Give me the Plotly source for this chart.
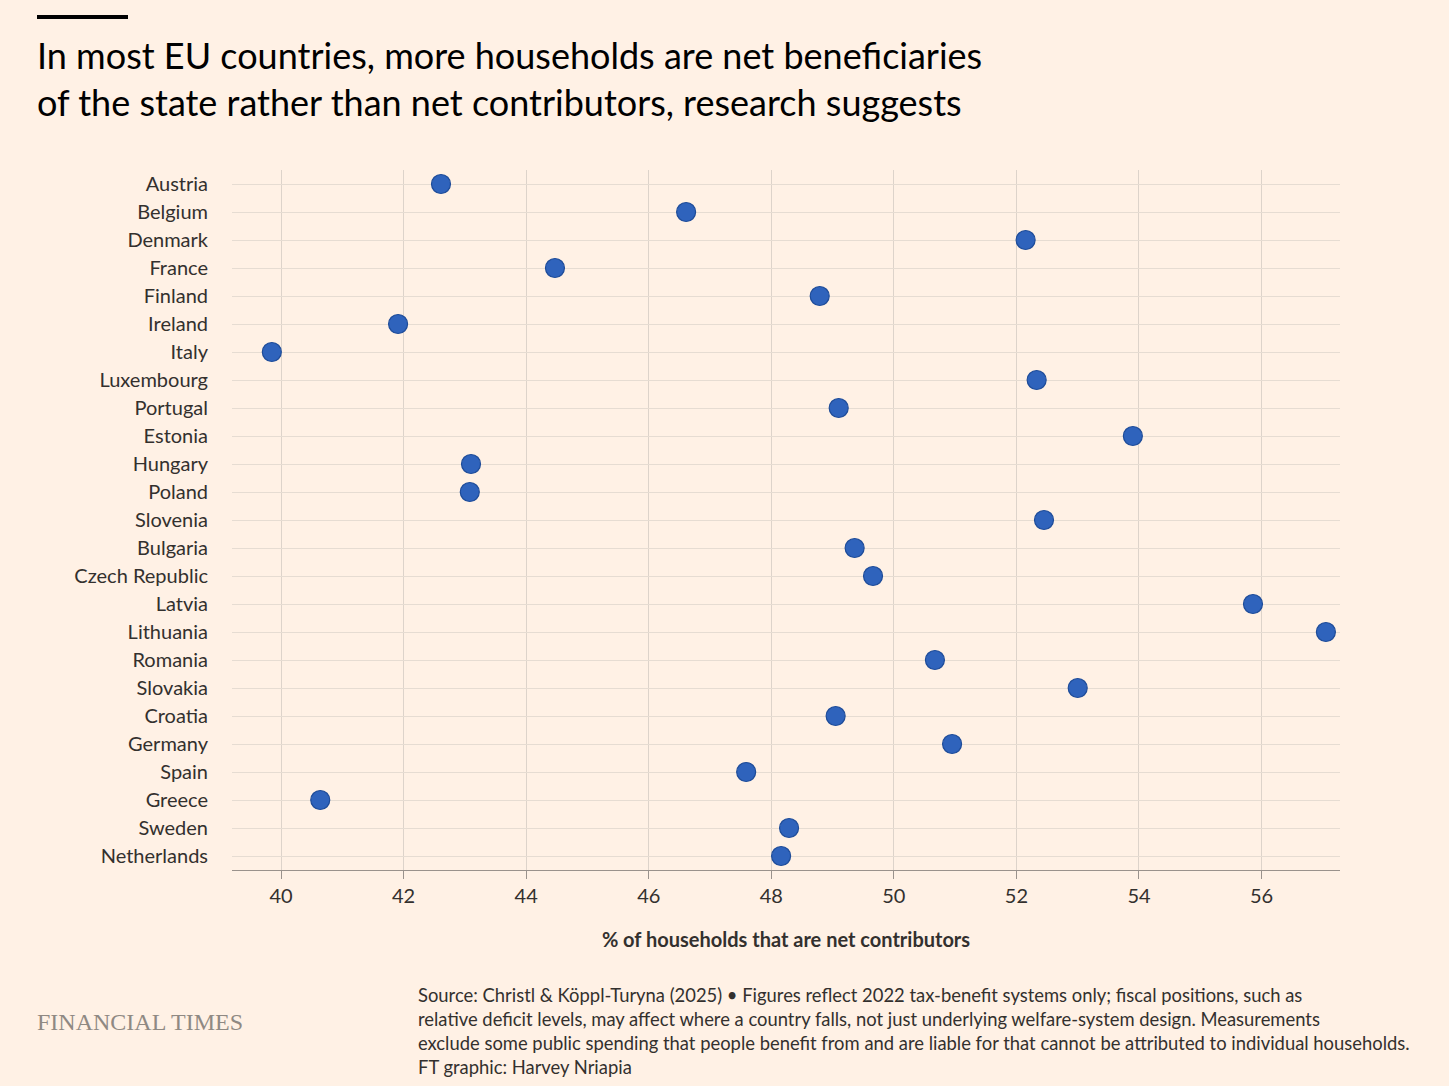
import plotly.graph_objects as go

countries = ["Austria", "Belgium", "Denmark", "France", "Finland", "Ireland", "Italy",
             "Luxembourg", "Portugal", "Estonia", "Hungary", "Poland", "Slovenia",
             "Bulgaria", "Czech Republic", "Latvia", "Lithuania", "Romania", "Slovakia",
             "Croatia", "Germany", "Spain", "Greece", "Sweden", "Netherlands"]
share = [42.61, 46.61, 52.15, 44.47, 48.79, 41.91, 39.85, 52.33, 49.10, 53.90,
         43.10, 43.08, 52.45, 49.36, 49.66, 55.86, 57.05, 50.67, 53.00, 49.05,
         50.95, 47.59, 40.64, 48.29, 48.16]
x_ticks = [40, 42, 44, 46, 48, 50, 52, 54, 56]

bg = "#FFF1E5"
font = "Lato, Noto Sans, sans-serif"

fig = go.Figure(go.Scatter(
    x=share, y=countries, mode="markers",
    marker=dict(size=19, color="#2F63BC", line=dict(color="#1E4C99", width=1.2)),
    showlegend=False, cliponaxis=False))

fig.update_layout(
    width=1449, height=1086, paper_bgcolor=bg, plot_bgcolor=bg,
    margin=dict(l=232, r=109, t=170, b=216),
    font=dict(family=font, size=20, color="#33302E"),
    xaxis=dict(range=[39.2, 57.28], tickvals=x_ticks, showgrid=True,
               gridcolor="#DDD3CA", gridwidth=1.2, zeroline=False,
               showline=True, linecolor="#9A928C", linewidth=1.2,
               ticks="outside", ticklen=8, tickcolor="#9A928C",
               tickfont=dict(size=20, color="#33302E"),
               title=dict(text="<b>% of households that are net contributors</b>",
                          font=dict(size=20, color="#33302E"), standoff=26)),
    yaxis=dict(categoryorder="array", categoryarray=countries,
               range=[24.5, -0.5], showgrid=True, gridcolor="#E6DCD2",
               gridwidth=1.2, zeroline=False, ticks="outside", ticklen=19,
               tickcolor="rgba(0,0,0,0)", tickfont=dict(size=20, color="#33302E")),
)

fig.add_shape(type="rect", xref="paper", yref="paper",
              x0=-195/1108, x1=-104/1108, y0=1 + 151/700, y1=1 + 155/700,
              fillcolor="#000000", line_width=0)

fig.add_annotation(xref="paper", yref="paper", x=-197/1108, y=1 + 139/700,
                   xanchor="left", yanchor="top", align="left", showarrow=False,
                   text="In most EU countries, more households are net beneficiaries<br>"
                        "of the state rather than net contributors, research suggests",
                   font=dict(size=36, color="#000000", family=font))

fig.add_annotation(xref="paper", yref="paper", x=-197/1108, y=-152/700,
                   xanchor="left", yanchor="middle", showarrow=False,
                   text="FINANCIAL TIMES",
                   font=dict(size=24, color="#8F8983", family="Liberation Serif, serif"))

fig.add_annotation(xref="paper", yref="paper", x=184/1108, y=-112/700,
                   xanchor="left", yanchor="top", align="left", showarrow=False,
                   text="Source: Christl &amp; Köppl-Turyna (2025) • Figures reflect 2022 tax-benefit systems only; fiscal positions, such as<br>"
                        "relative deficit levels, may affect where a country falls, not just underlying welfare-system design. Measurements<br>"
                        "exclude some public spending that people benefit from and are liable for that cannot be attributed to individual households.<br>"
                        "FT graphic: Harvey Nriapia",
                   font=dict(size=18.4, color="#33302E", family=font))

fig.write_html("out.html", config={"displayModeBar": False},
               post_script="document.body.style.margin='0';document.body.style.background='#FFF1E5';")
